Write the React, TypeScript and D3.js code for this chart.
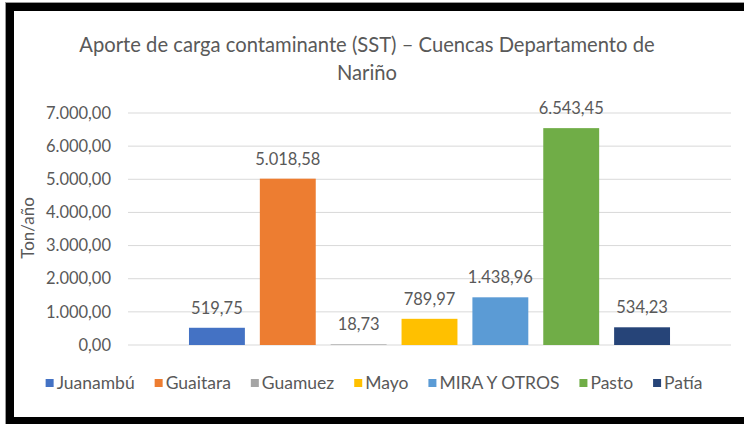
import React, { useEffect, useRef } from "react";
import * as d3 from "d3";

const seriesNames = ["Juanambú", "Guaitara", "Guamuez", "Mayo", "MIRA Y OTROS", "Pasto", "Patía"];
const seriesValues = [519.75, 5018.58, 18.73, 789.97, 1438.96, 6543.45, 534.23];
const seriesColors = ["#4472C4", "#ED7D31", "#A5A5A5", "#FFC000", "#5B9BD5", "#70AD47", "#264478"];
const yTicks = [0, 1000, 2000, 3000, 4000, 5000, 6000, 7000];
const titleLines = ["Aporte de carga contaminante (SST) – Cuencas Departamento de", "Nariño"];
const yAxisTitle = "Ton/año";

const W = 744;
const H = 424;
const FONT = "Lato, 'Open Sans', sans-serif";
const TEXT = "#595959";

export default function App() {
  const ref = useRef<SVGSVGElement | null>(null);

  useEffect(() => {
    const svg = d3.select(ref.current);
    svg.selectAll("*").remove();

    const locale = d3.formatLocale({ decimal: ",", thousands: ".", grouping: [3], currency: ["", ""] });
    const fmt = locale.format(",.2f");

    const plotLeft = 128;
    const plotRight = 731;
    const y = d3.scaleLinear().domain([0, 7000]).range([345, 113]);
    const x = d3
      .scaleBand<string>()
      .domain(seriesNames)
      .range([181.5, 677.5])
      .paddingInner(0.211)
      .paddingOuter(0.1055);

    // background
    svg.append("rect").attr("x", 0).attr("y", 0).attr("width", W).attr("height", H).attr("fill", "#fff");

    // title
    const title = svg
      .append("text")
      .attr("text-anchor", "middle")
      .attr("font-family", FONT)
      .attr("font-size", 20.2)
      .attr("fill", TEXT);
    titleLines.forEach((t, i) => {
      title
        .append("tspan")
        .attr("x", 367)
        .attr("y", 52 + i * 28)
        .text(t);
    });

    // gridlines
    svg
      .append("g")
      .selectAll("line")
      .data(yTicks)
      .join("line")
      .attr("x1", plotLeft)
      .attr("x2", plotRight)
      .attr("y1", (d) => y(d))
      .attr("y2", (d) => y(d))
      .attr("stroke", "#D9D9D9")
      .attr("stroke-width", 1);

    // y tick labels
    svg
      .append("g")
      .selectAll("text")
      .data(yTicks)
      .join("text")
      .attr("x", 111)
      .attr("y", (d) => y(d))
      .attr("dy", "0.35em")
      .attr("text-anchor", "end")
      .attr("font-family", FONT)
      .attr("font-size", 16.5)
      .attr("fill", TEXT)
      .text((d) => fmt(d));

    // y axis title
    svg
      .append("text")
      .attr("transform", `translate(34,228) rotate(-90)`)
      .attr("text-anchor", "middle")
      .attr("font-family", FONT)
      .attr("font-size", 17)
      .attr("fill", TEXT)
      .text(yAxisTitle);

    // bars
    svg
      .append("g")
      .selectAll("rect")
      .data(seriesValues)
      .join("rect")
      .attr("x", (_, i) => x(seriesNames[i]) as number)
      .attr("width", x.bandwidth())
      .attr("y", (d) => y(d))
      .attr("height", (d) => y(0) - y(d))
      .attr("fill", (_, i) => seriesColors[i]);

    // data labels
    svg
      .append("g")
      .selectAll("text")
      .data(seriesValues)
      .join("text")
      .attr("x", (_, i) => (x(seriesNames[i]) as number) + x.bandwidth() / 2)
      .attr("y", (d) => y(d) - 14)
      .attr("text-anchor", "middle")
      .attr("font-family", FONT)
      .attr("font-size", 16.5)
      .attr("fill", TEXT)
      .text((d) => fmt(d));

    // legend
    const legend = svg.append("g");
    const items = legend
      .selectAll("g")
      .data(seriesNames)
      .join("g");
    const textOffset = 11;
    items
      .append("rect")
      .attr("width", 8)
      .attr("height", 8)
      .attr("y", -4)
      .attr("fill", (_, i) => seriesColors[i]);
    items
      .append("text")
      .attr("x", textOffset)
      .attr("dy", "0.35em")
      .attr("font-family", FONT)
      .attr("font-size", 17.5)
      .attr("fill", TEXT)
      .text((d) => d);
    const widths: number[] = [];
    items.each(function () {
      const t = d3.select(this).select("text").node() as SVGTextElement;
      widths.push(textOffset + t.getComputedTextLength());
    });
    const gap = 20;
    const total = d3.sum(widths) + gap * (widths.length - 1);
    let cx = 374 - total / 2;
    items.attr("transform", (_, i) => {
      const tx = cx;
      cx += widths[i] + gap;
      return `translate(${tx},383)`;
    });

    // frame
    svg
      .append("rect")
      .attr("x", 5.5)
      .attr("y", 2.5)
      .attr("width", 800)
      .attr("height", 440)
      .attr("fill", "none")
      .attr("stroke", "#9a9a9a")
      .attr("stroke-width", 1);
    svg
      .append("rect")
      .attr("x", 10)
      .attr("y", 7)
      .attr("width", 800)
      .attr("height", 414)
      .attr("fill", "none")
      .attr("stroke", "#000")
      .attr("stroke-width", 8);
  }, []);

  return (
    <svg
      ref={ref}
      width={W}
      height={H}
      style={{ position: "absolute", left: 0, top: 0, display: "block" }}
    />
  );
}
